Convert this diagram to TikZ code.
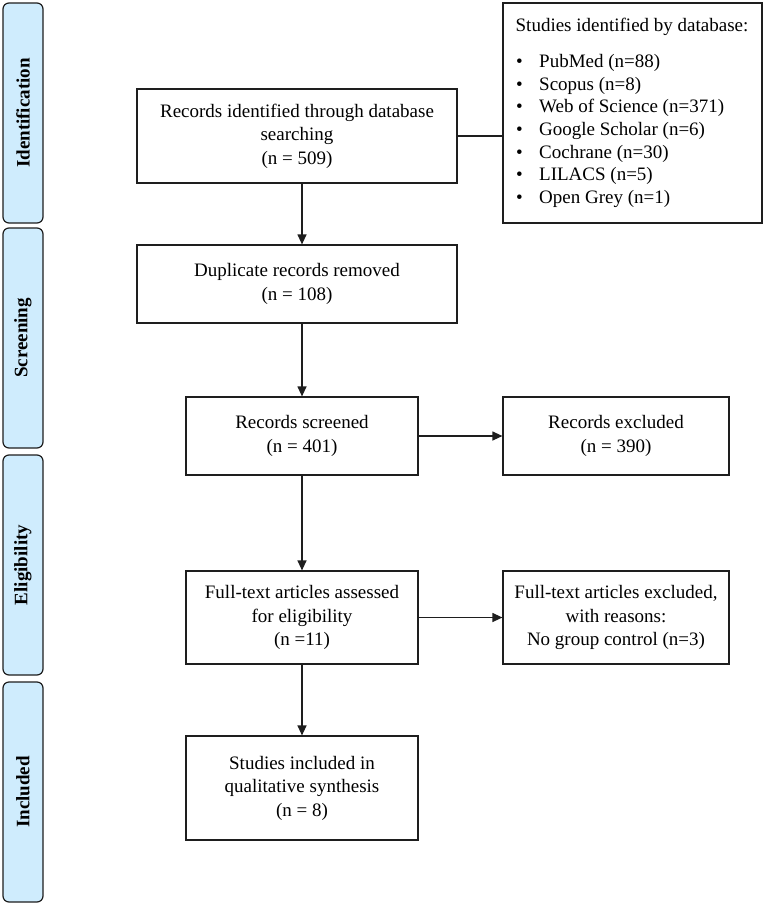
\documentclass[tikz,border=0pt]{standalone}
\usepackage{fontspec}
\setmainfont{Liberation Serif}
\usetikzlibrary{arrows.meta}
\definecolor{phasefill}{RGB}{207,236,253}
\definecolor{ink}{RGB}{30,30,30}
\begin{document}
\begin{tikzpicture}[x=1pt,y=-1pt,
  every node/.style={font=\fontsize{19}{23.5}\selectfont},
  phase/.style={draw=ink, line width=1.2pt, fill=phasefill, rounded corners=6pt,
    rotate=90, minimum width=220pt, minimum height=40pt, inner sep=0pt,
    font=\fontsize{19}{23}\selectfont\bfseries},
  box/.style={draw=ink, line width=1.2pt, align=center, inner sep=2pt},
  arr/.style={draw=ink, line width=1.2pt, -{Triangle[length=10pt,width=9pt]}},
  conn/.style={draw=ink, line width=1.2pt}
]
\useasboundingbox (0,0) rectangle (765,905);
\fill[white] (0,0) rectangle (765,905);

% phase bars
\node[phase] (pid) at (23,113) {Identification};
\node[phase] (psc) at (23,338) {Screening};
\node[phase] (pel) at (23,565) {Eligibility};
\node[phase] (pin) at (23,792) {Included};

% main boxes
\node[box, minimum width=320pt, minimum height=94pt] (b1) at (297,136)
  {Records identified through database\\searching\\(n = 509)};
\node[box, minimum width=320pt, minimum height=78pt] (b2) at (297,284)
  {Duplicate records removed\\(n = 108)};
\node[box, minimum width=232pt, minimum height=78pt] (b3) at (302,436)
  {Records screened\\(n = 401)};
\node[box, minimum width=226pt, minimum height=78pt] (ex1) at (616,436)
  {Records excluded\\(n = 390)};
\node[box, minimum width=232pt, minimum height=93pt] (b4) at (302,617.5)
  {Full-text articles assessed\\for eligibility\\(n =11)};
\node[box, minimum width=226pt, minimum height=93pt] (ex2) at (616,617.5)
  {Full-text articles excluded,\\with reasons:\\No group control (n=3)};
\node[box, minimum width=232pt, minimum height=104pt] (b5) at (302,788)
  {Studies included in\\qualitative synthesis\\(n = 8)};

% database box
\node[box, minimum width=259pt, minimum height=220pt] (db) at (632.5,113) {};
\node[inner sep=0pt] (dbh) at (632,27) {Studies identified by database:};
\node[inner sep=0pt, anchor=west, align=left,
  font=\fontsize{19}{22.7}\selectfont] (dbl) at (516,131)
  {\makebox[23pt][l]{\textbullet}PubMed (n=88)\\
   \makebox[23pt][l]{\textbullet}Scopus (n=8)\\
   \makebox[23pt][l]{\textbullet}Web of Science (n=371)\\
   \makebox[23pt][l]{\textbullet}Google Scholar (n=6)\\
   \makebox[23pt][l]{\textbullet}Cochrane (n=30)\\
   \makebox[23pt][l]{\textbullet}LILACS (n=5)\\
   \makebox[23pt][l]{\textbullet}Open Grey (n=1)};

% connectors
\draw[conn] (b1.east) -- (b1.east -| db.west);
\draw[arr] (b1.south -| b3.north) -- (b2.north -| b3.north);
\draw[arr] (b2.south -| b3.north) -- (b3.north);
\draw[arr] (b3) -- (ex1);
\draw[arr] (b3) -- (b4);
\draw[arr] (b4) -- (ex2);
\draw[arr] (b4) -- (b5);
\end{tikzpicture}
\end{document}
